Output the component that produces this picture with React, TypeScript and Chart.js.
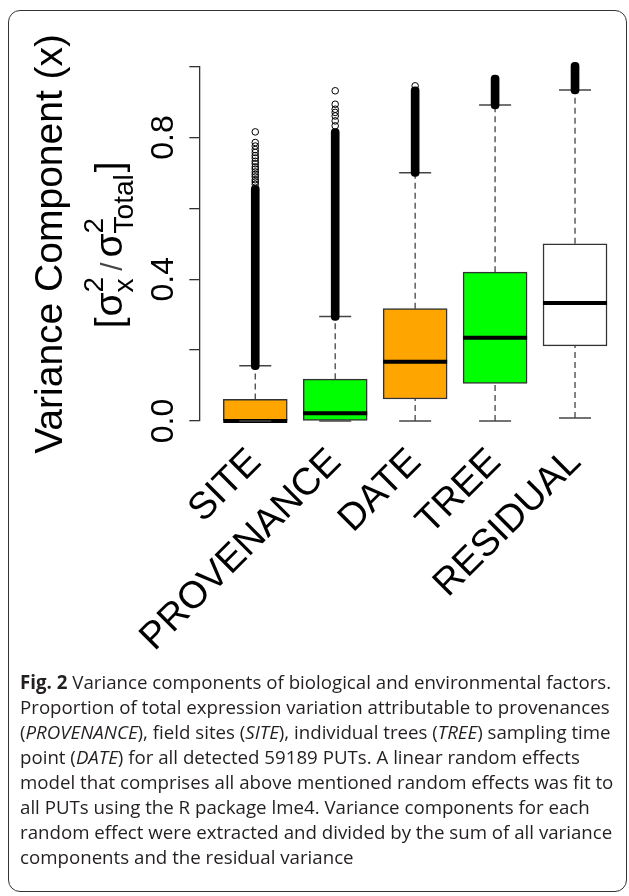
import React, { useEffect, useRef } from "react";
import { Chart, registerables } from "chart.js";

Chart.register(...registerables);

// ---------- data ----------
const categories = ["SITE", "PROVENANCE", "DATE", "TREE", "RESIDUAL"];
const q1 = [0, 0, 0.062, 0.106, 0.212];
const medians = [0, 0.022, 0.167, 0.235, 0.333];
const q3 = [0.061, 0.118, 0.317, 0.42, 0.5];
const whiskerLow = [0, 0, 0, 0, 0.0085];
const whiskerHigh = [0.156, 0.295, 0.701, 0.892, 0.934];
// dense runs of outliers (overlapping circles form a solid column)
const denseOutlierLow = [0.145, 0.284, 0.69, 0.881, 0.923];
const denseOutlierHigh = [0.665, 0.825, 0.943, 0.976, 1.012];
// individually visible outliers
const siteOutliers = [0.668, 0.675, 0.681, 0.689, 0.696, 0.703, 0.711, 0.717, 0.726, 0.733, 0.742, 0.749, 0.758, 0.766, 0.776, 0.786, 0.816];
const provenanceOutliers = [0.833, 0.847, 0.861, 0.871, 0.88, 0.894, 0.932];
const dateOutliers = [0.946];
const treeOutliers: number[] = [];
const residualOutliers: number[] = [];
const sparseOutliers = [siteOutliers, provenanceOutliers, dateOutliers, treeOutliers, residualOutliers];
const boxColors = ["#FFA500", "#00FF00", "#FFA500", "#00FF00", "#FFFFFF"];
const yTickValues = [0, 0.2, 0.4, 0.6, 0.8, 1.0];
const yTickLabels = ["0.0", "", "0.4", "", "0.8", ""];
const yTitleLine1 = "Variance Component (x)";
const sigma = "σ";
const supText = "2";
const subText1 = "x";
const subText2 = "Total";

const FAMILY = '"Liberation Sans", Arial, Helvetica, sans-serif';
const CANVAS_W = 629;
const CANVAS_H = 670;
const AREA_BOTTOM = 421;
const X_MIN = -0.7;
const X_MAX = 4.5;

const yLabelLine2Plugin = {
  id: "yLabelLine2",
  afterDraw(chart: any) {
    const ctx = chart.ctx as CanvasRenderingContext2D;
    const area = chart.chartArea;
    const cy = (area.top + area.bottom) / 2 + 1;
    const baseX = 122;
    const big = 39;
    const small = 28;
    type Tok = { t?: string; s?: number; sup?: string; sub?: string; gap?: number; color?: string };
    const toks: Tok[] = [
      { t: "[", s: big },
      { gap: 1 },
      { t: sigma, s: big },
      { sup: supText, sub: subText1 },
      { gap: 6 },
      { t: "/", s: 30, color: "#444" },
      { gap: 5 },
      { t: sigma, s: big },
      { sup: supText, sub: subText2 },
      { gap: 2 },
      { t: "]", s: big },
    ];
    const measure = (txt: string, size: number) => {
      ctx.font = `${size}px ${FAMILY}`;
      return ctx.measureText(txt).width;
    };
    const widths = toks.map((k) => {
      if (k.gap !== undefined) return k.gap;
      if (k.t !== undefined) return measure(k.t, k.s!);
      return Math.max(measure(k.sup!, small), measure(k.sub!, small));
    });
    const total = widths.reduce((a, b) => a + b, 0);
    ctx.save();
    ctx.translate(baseX, cy);
    ctx.rotate(-Math.PI / 2);
    ctx.textBaseline = "alphabetic";
    ctx.textAlign = "left";
    let x = -total / 2;
    toks.forEach((k, i) => {
      if (k.t !== undefined) {
        ctx.font = `${k.s}px ${FAMILY}`;
        ctx.fillStyle = k.color || "#000";
        ctx.fillText(k.t, x, 0);
      } else if (k.sup !== undefined) {
        ctx.font = `${small}px ${FAMILY}`;
        ctx.fillStyle = "#000";
        ctx.fillText(k.sup, x, -19);
        ctx.fillText(k.sub!, x, 11);
      }
      x += widths[i];
    });
    ctx.restore();
  },
};

export default function App() {
  const ref = useRef<HTMLCanvasElement | null>(null);

  useEffect(() => {
    const canvas = ref.current;
    if (!canvas) return;
    const idx = categories.map((_, i) => i);

    const whiskerData: any[] = [];
    idx.forEach((i) => {
      whiskerData.push(
        { x: i, y: whiskerLow[i] },
        { x: i, y: q1[i] },
        { x: i, y: null },
        { x: i, y: q3[i] },
        { x: i, y: whiskerHigh[i] },
        { x: i, y: null }
      );
    });
    const capData: any[] = [];
    idx.forEach((i) => {
      capData.push({ x: i, y: whiskerLow[i] }, { x: i, y: whiskerHigh[i] });
    });
    const sparseData: any[] = [];
    idx.forEach((i) => sparseOutliers[i].forEach((v) => sparseData.push({ x: i, y: v })));

    const chart = new Chart(canvas, {
      type: "bar",
      data: {
        datasets: [
          {
            type: "line",
            data: whiskerData,
            borderColor: "#444",
            borderWidth: 1.3,
            borderDash: [6, 4],
            pointRadius: 0,
            spanGaps: false,
            order: 6,
            clip: false,
          } as any,
          {
            type: "bar",
            data: idx.map((i) => ({ x: i, y: [q1[i], q3[i]] })),
            backgroundColor: boxColors,
            borderColor: "#333",
            borderWidth: 1.5,
            borderSkipped: false,
            barThickness: 64,
            grouped: false,
            order: 5,
            clip: false,
          } as any,
          {
            type: "scatter",
            data: idx.map((i) => ({ x: i, y: medians[i] })),
            pointStyle: "line",
            pointRadius: 32,
            pointBorderColor: "#000",
            pointBorderWidth: 4,
            order: 4,
            clip: false,
          } as any,
          {
            type: "scatter",
            data: capData,
            pointStyle: "line",
            pointRadius: 16,
            pointBorderColor: "#444",
            pointBorderWidth: 1.5,
            order: 3,
            clip: false,
          } as any,
          {
            type: "bar",
            data: idx.map((i) => ({ x: i, y: [denseOutlierLow[i], denseOutlierHigh[i]] })),
            backgroundColor: "#000",
            borderWidth: 0,
            borderSkipped: false,
            borderRadius: 4,
            barThickness: 8,
            grouped: false,
            order: 2,
            clip: false,
          } as any,
          {
            type: "scatter",
            data: sparseData,
            pointStyle: "circle",
            pointRadius: 3.3,
            pointBorderColor: "#000",
            pointBorderWidth: 1,
            pointBackgroundColor: "rgba(255,255,255,0)",
            order: 1,
            clip: false,
          } as any,
        ],
      },
      options: {
        responsive: false,
        animation: false,
        events: [],
        devicePixelRatio: 1,
        layout: { autoPadding: false, padding: { top: 66.7, right: 14, left: 0, bottom: 0 } },
        plugins: {
          legend: { display: false },
          tooltip: { enabled: false },
          title: { display: false },
        },
        scales: {
          x: {
            type: "linear",
            min: X_MIN,
            max: X_MAX,
            offset: false,
            afterBuildTicks: (s: any) => {
              s.ticks = categories.map((_, i) => ({ value: i }));
            },
            afterFit: (s: any) => {
              s.height = CANVAS_H - AREA_BOTTOM;
            },
            ticks: {
              callback: (_v: any, i: number) => categories[i],
              autoSkip: false,
              minRotation: 45,
              maxRotation: 45,
              padding: 19,
              color: "#000",
              font: { size: 38, family: FAMILY },
            },
            grid: { display: false, drawTicks: false, offset: false },
            border: { display: false },
          },
          y: {
            type: "linear",
            min: 0,
            max: 1,
            afterBuildTicks: (s: any) => {
              s.ticks = yTickValues.map((v) => ({ value: v }));
            },
            afterFit: (s: any) => {
              s.width = 199.3;
            },
            ticks: {
              callback: (_v: any, i: number) => yTickLabels[i],
              autoSkip: false,
              minRotation: 90,
              maxRotation: 90,
              crossAlign: "center",
              padding: 3,
              color: "#000",
              font: { size: 32, family: FAMILY },
            },
            grid: { drawOnChartArea: false, drawTicks: true, tickLength: 10, color: "#333", lineWidth: 1.3 },
            border: { display: true, color: "#333", width: 1.3 },
            title: {
              display: true,
              text: yTitleLine1,
              color: "#000",
              font: { size: 39, family: FAMILY },
              padding: { top: 28, bottom: 0 },
            },
          },
        },
      } as any,
      plugins: [yLabelLine2Plugin],
    });
    return () => chart.destroy();
  }, []);

  const captionStyle: React.CSSProperties = {
    position: "absolute",
    left: 20,
    top: 669,
    fontFamily: '"Open Sans", "Noto Sans", sans-serif',
    fontSize: 18.7,
    lineHeight: "25px",
    color: "#231F20",
    whiteSpace: "nowrap",
  };

  return (
    <div>
      <div
        style={{
          position: "absolute",
          left: 8,
          top: 10,
          width: 619,
          height: 882,
          border: "1.5px solid #333",
          borderRadius: 12,
          boxSizing: "border-box",
        }}
      />
      <canvas
        ref={ref}
        width={CANVAS_W}
        height={CANVAS_H}
        style={{ position: "absolute", left: 0, top: 0, width: CANVAS_W, height: CANVAS_H }}
      />
      <div style={captionStyle}>
        <b>Fig. 2</b> Variance components of biological and environmental factors.
        <br />
        Proportion of total expression variation attributable to provenances
        <br />
        (<i>PROVENANCE</i>), field sites (<i>SITE</i>), individual trees (<i>TREE</i>) sampling time
        <br />
        point (<i>DATE</i>) for all detected 59189 PUTs. A linear random effects
        <br />
        model that comprises all above mentioned random effects was fit to
        <br />
        all PUTs using the R package lme4. Variance components for each
        <br />
        random effect were extracted and divided by the sum of all variance
        <br />
        components and the residual variance
      </div>
    </div>
  );
}
